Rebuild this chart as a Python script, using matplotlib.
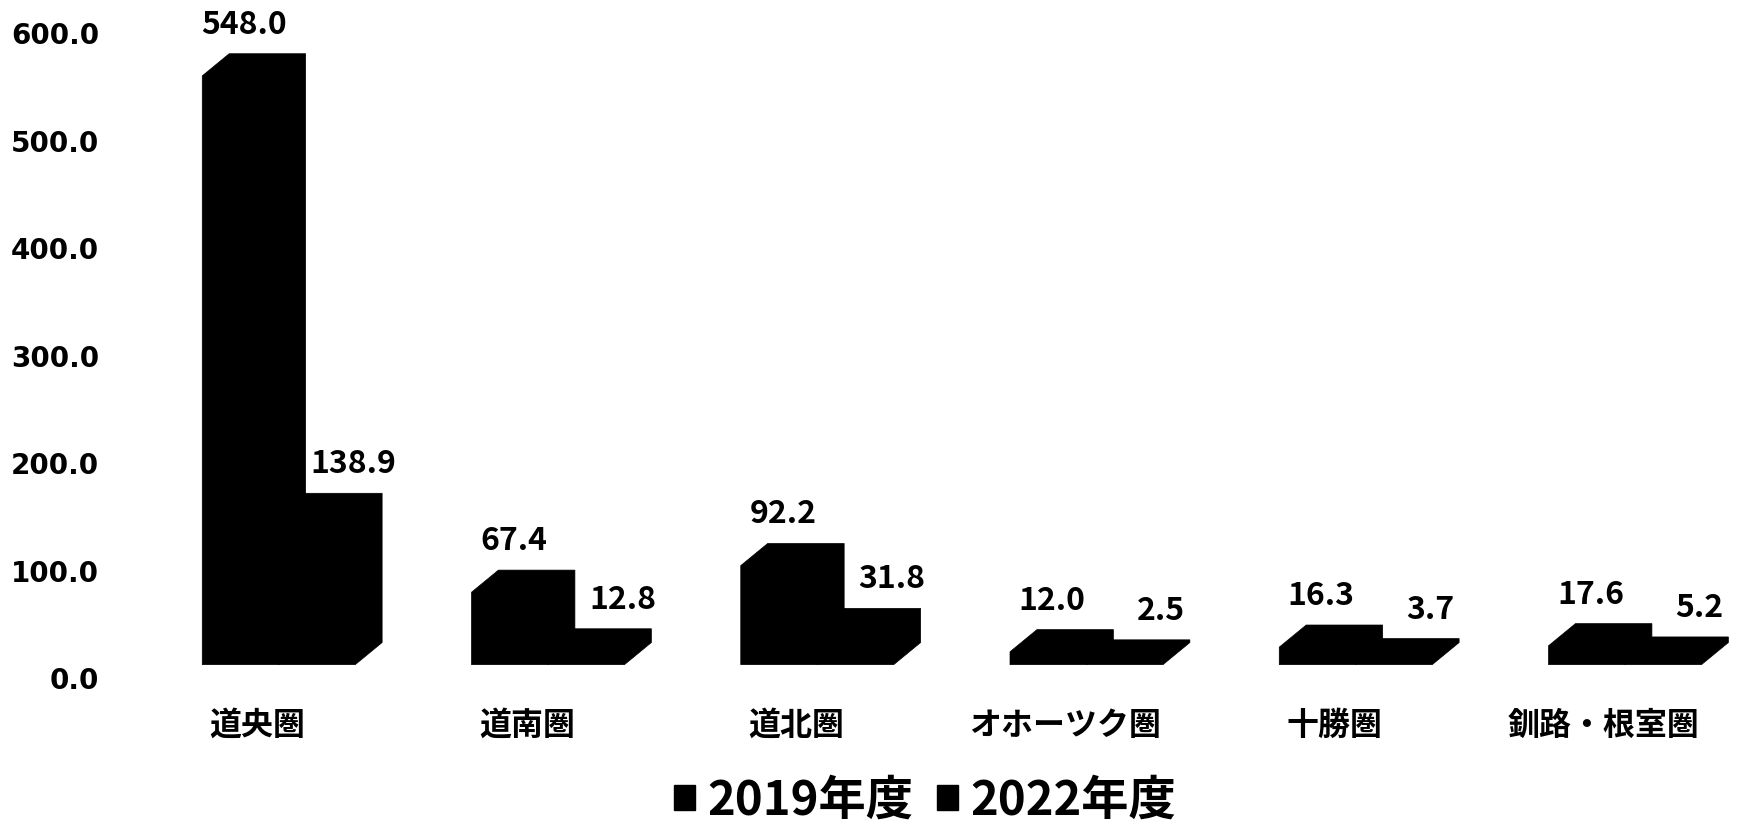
import matplotlib.pyplot as plt
from matplotlib.patches import Polygon, Patch

plt.rcParams['font.family'] = ['Noto Sans CJK JP', 'DejaVu Sans']

# Datos del gráfico
regiones = ["道央圏", "道南圏", "道北圏", "オホーツク圏", "十勝圏", "釧路・根室圏"]
valores_2019 = [548.0, 67.4, 92.2, 12.0, 16.3, 17.6]
valores_2022 = [138.9, 12.8, 31.8, 2.5, 3.7, 5.2]
series = ["2019年度", "2022年度"]
ticks_y = [0, 100, 200, 300, 400, 500, 600]

# Geometría de las columnas "3D"
ancho = 0.284
dx, dy = 0.1, 20.6
base = 12.4
desplaz = -0.206

fig = plt.figure(figsize=(17.37, 8.26), dpi=100)
ax = fig.add_axes([0.07, 0.1792, 0.93, 0.8208])


# Dibuja una columna como silueta de caja (cara frontal + superior + lateral)
def caja(x0, h):
    pts = [(x0, base), (x0 + ancho, base), (x0 + ancho + dx, base + dy),
           (x0 + ancho + dx, base + h + dy), (x0 + dx, base + h + dy), (x0, base + h)]
    ax.add_patch(Polygon(pts, closed=True, facecolor="black", edgecolor="black", lw=0.5))


for i, (v1, v2) in enumerate(zip(valores_2019, valores_2022)):
    x0 = i + desplaz
    caja(x0 + ancho, v2)
    caja(x0, v1)
    ax.text(i - 0.05, v1 + 60, f"{v1:.1f}", ha="center", va="center",
            fontsize=23, fontweight="bold")
    ax.text(i + 0.355, v2 + 60, f"{v2:.1f}", ha="center", va="center",
            fontsize=23, fontweight="bold")

ax.set_xlim(-0.5056, 5.494)
ax.set_ylim(0, 631)
ax.set_xticks(range(len(regiones)))
ax.set_xticklabels(regiones, fontsize=23, fontweight="bold")
ax.set_yticks(ticks_y)
ax.set_yticklabels([f"{t:.1f}" for t in ticks_y], fontsize=20, fontweight="bold",
                   family="DejaVu Sans")
ax.tick_params(axis="x", length=0, pad=23)
ax.tick_params(axis="y", length=0, pad=16)
for s in ax.spines.values():
    s.set_visible(False)

manejadores = [Patch(facecolor="black", edgecolor="black") for _ in series]
fig.legend(manejadores, series, loc="center", bbox_to_anchor=(0.5325, 0.031), ncol=2,
           frameon=False, prop={"size": 34, "weight": "bold"},
           handlelength=0.45, handleheight=0.45, handletextpad=0.25, columnspacing=0.5)

fig.savefig("out.png", dpi=100, facecolor="white")
